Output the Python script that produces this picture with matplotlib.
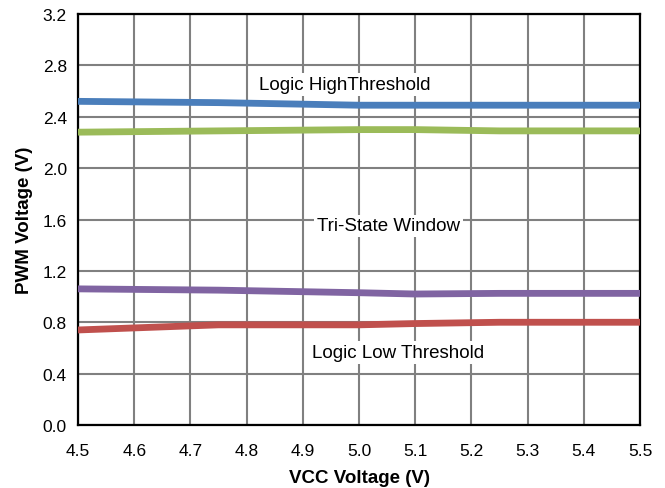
import matplotlib
matplotlib.use("Agg")
import matplotlib.pyplot as plt

plt.rcParams['font.family'] = ['Liberation Sans', 'DejaVu Sans']

# VCC-Spannung (V)
vcc = [4.5, 4.75, 5.0, 5.1, 5.25, 5.5]
# PWM-Schwellen (V)
logic_high = [2.52, 2.51, 2.49, 2.49, 2.49, 2.49]
tri_high = [2.28, 2.29, 2.30, 2.30, 2.29, 2.29]
tri_low = [1.06, 1.05, 1.03, 1.02, 1.025, 1.025]
logic_low = [0.74, 0.78, 0.78, 0.79, 0.80, 0.80]

x_ticks = [4.5, 4.6, 4.7, 4.8, 4.9, 5.0, 5.1, 5.2, 5.3, 5.4, 5.5]
y_ticks = [0.0, 0.4, 0.8, 1.2, 1.6, 2.0, 2.4, 2.8, 3.2]

fig = plt.figure(figsize=(6.65, 4.89), dpi=100)
ax = fig.add_axes([0.1173, 0.1288, 0.8451, 0.8405])

ax.grid(True, color='#808080', linewidth=1.5, zorder=0)
ax.set_axisbelow(True)

ax.plot(vcc, logic_high, color='#4a7ebb', linewidth=4.9, solid_capstyle='butt', zorder=3)
ax.plot(vcc, tri_high, color='#9bbb59', linewidth=4.9, solid_capstyle='butt', zorder=3)
ax.plot(vcc, tri_low, color='#8064a2', linewidth=4.9, solid_capstyle='butt', zorder=3)
ax.plot(vcc, logic_low, color='#c0504d', linewidth=4.9, solid_capstyle='butt', zorder=3)

# Beschriftungen mit weißem Hintergrund
box = dict(facecolor='white', edgecolor='none', pad=2)
ax.text(4.974, 2.65, 'Logic HighThreshold', ha='center', va='center', fontsize=13.5, bbox=box, zorder=4)
ax.text(5.052, 1.55, 'Tri-State Window', ha='center', va='center', fontsize=13.5, bbox=box, zorder=4)
ax.text(5.069, 0.565, 'Logic Low Threshold', ha='center', va='center', fontsize=13.5, bbox=box, zorder=4)

ax.set_xlim(4.5, 5.5)
ax.set_ylim(0, 3.2)
ax.set_xticks(x_ticks)
ax.set_yticks(y_ticks)
ax.set_xticklabels([f"{v:.1f}" for v in x_ticks])
ax.set_yticklabels([f"{v:.1f}" for v in y_ticks])
ax.tick_params(length=0, labelsize=12.5)
ax.tick_params(axis='x', pad=13)
ax.tick_params(axis='y', pad=8)

for s in ax.spines.values():
    s.set_linewidth(1.6)
    s.set_color('black')

ax.set_xlabel('VCC Voltage (V)', fontsize=13.5, fontweight='bold', labelpad=8)
ax.set_ylabel('PWM Voltage (V)', fontsize=13.5, fontweight='bold', labelpad=7)

fig.savefig('out.png', dpi=100)
